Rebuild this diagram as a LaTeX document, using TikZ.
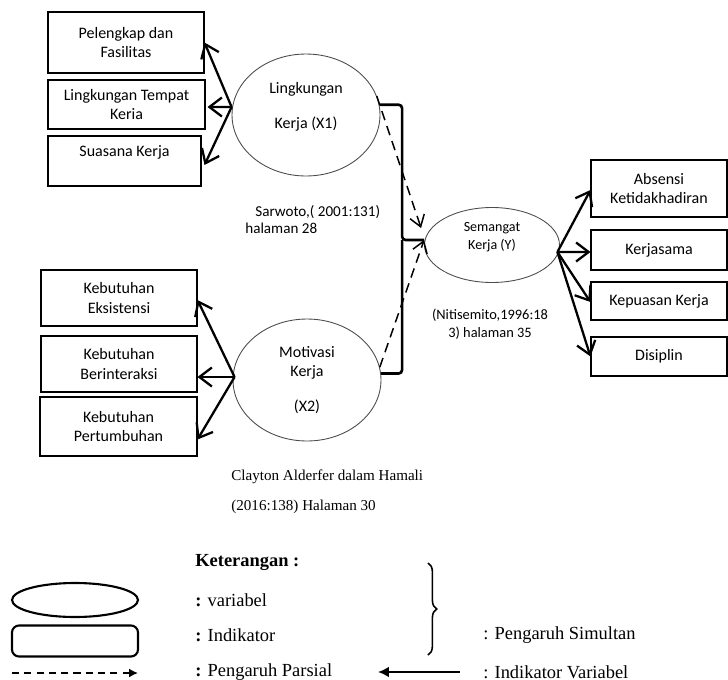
\documentclass[tikz,border=0pt]{standalone}
\usepackage{fontspec}
\setmainfont{Liberation Serif}
\newfontfamily\carlito{Carlito}
\usetikzlibrary{positioning,shapes.geometric,arrows.meta,decorations.pathreplacing}

\begin{document}
\begin{tikzpicture}[x=0.02cm, y=-0.02cm,
    indikator/.style={draw, rectangle, line width=0.6pt, align=center, inner sep=0pt, font=\carlito\fontsize{9.1}{11.3}\selectfont},
    variabel/.style={draw=black!70, ellipse, line width=0.5pt, minimum width=2.96cm, minimum height=2.44cm, align=center, inner sep=0pt, font=\carlito\fontsize{9.1}{11.3}\selectfont},
    panah/.style={-{Straight Barb[length=2.5mm, width=3.8mm]}, line width=1.3pt},
    parsial/.style={-{Straight Barb[length=2.2mm, width=3mm]}, dash pattern=on 5.5pt off 3.5pt, line width=0.85pt},
    simultan/.style={line width=1.5pt, rounded corners=2pt},
    sumber/.style={inner sep=0pt, font=\carlito\fontsize{8.6}{10.2}\selectfont},
    ket/.style={anchor=west, inner sep=0pt, font=\fontsize{10.5}{12}\selectfont}
]
\useasboundingbox (0,0) rectangle (728,680);

% Variabel
\node[variabel] (x1) at (306,115) {Lingkungan\\[8.5pt]Kerja (X1)\\ \mbox{}};
\node[variabel] (x2) at (307,380) {Motivasi\\Kerja\\[8.5pt](X2)};
\node[variabel, minimum width=2.7cm, minimum height=1.5cm, font=\carlito\fontsize{8}{10}\selectfont] (y) at (492,245) {Semangat\\Kerja (Y)\\ \mbox{}};

% Indikator X1
\node[indikator, minimum width=3.12cm, minimum height=1.22cm] (pelengkap) at (126,42.5) {Pelengkap dan\\Fasilitas};
\node[indikator, minimum width=3.14cm, minimum height=0.98cm] (tempat) at (126.5,104.5) {Lingkungan Tempat\\Keria};
\node[indikator, minimum width=3.06cm, minimum height=1.0cm] (suasana) at (124.5,161) {Suasana Kerja\\ \mbox{}};

% Indikator X2
\node[indikator, minimum width=3.12cm, minimum height=1.12cm] (eksistensi) at (119,298) {Kebutuhan\\Eksistensi};
\node[indikator, minimum width=3.12cm, minimum height=1.12cm] (interaksi) at (119,364) {Kebutuhan\\Berinteraksi};
\node[indikator, minimum width=3.14cm, minimum height=1.18cm] (tumbuh) at (118.5,426.5) {Kebutuhan\\Pertumbuhan};

% Indikator Y
\node[indikator, minimum width=2.72cm, minimum height=1.14cm] (absensi) at (659,188.5) {Absensi\\Ketidakhadiran};
\node[indikator, minimum width=2.72cm, minimum height=0.8cm] (kerjasama) at (659,250) {Kerjasama};
\node[indikator, minimum width=2.72cm, minimum height=0.76cm] (kepuasan) at (659,301) {Kepuasan Kerja};
\node[indikator, minimum width=2.72cm, minimum height=0.78cm] (disiplin) at (659,356.5) {Disiplin};

% Sumber
\node[sumber, anchor=west, align=left] (sarwoto) at (245,219.5) {\hspace*{0.2cm}Sarwoto,( 2001:131)\\halaman 28};
\node[sumber, align=center, font=\carlito\fontsize{8.2}{10.2}\selectfont] (nitisemito) at (490,324) {(Nitisemito,1996:18\\3) halaman 35};
\node[inner sep=0pt, anchor=west, align=left, font=\fontsize{8.6}{17}\selectfont] (clayton) at (231,492) {Clayton Alderfer dalam Hamali\\(2016:138) Halaman 30};

% Titik bantu
\coordinate (x1hub) at ([yshift=0.16cm]x1.west);
\coordinate (x2hub) at ([xshift=0.04cm, yshift=0.06cm]x2.west);
\coordinate (yhub) at ([xshift=-0.05cm, yshift=-0.14cm]y.east);
\coordinate (yatas) at ([xshift=-0.06cm, yshift=0.34cm]y.west);
\coordinate (ybawah) at ([yshift=0.1cm]y.west);
\coordinate (simpul) at ([xshift=-0.44cm, yshift=0.1cm]y.west);

% Indikator variabel
\draw[panah] (x1hub) -- (pelengkap.east);
\draw[panah] (x1hub) -- ([xshift=0.04cm, yshift=-0.05cm]tempat.east);
\draw[panah] (x1hub) -- ([xshift=0.06cm, yshift=-0.08cm]suasana.east);
\draw[panah] (x2hub) -- ([yshift=-0.04cm]eksistensi.east);
\draw[panah] (x2hub) -- (interaksi.east |- x2hub);
\draw[panah] (x2hub) -- ([yshift=-0.26cm]tumbuh.east);
\draw[panah] (yhub) -- ([yshift=-0.03cm]absensi.west);
\draw[panah] (yhub) -- ([yshift=-0.04cm]kerjasama.west);
\draw[panah] (yhub) -- ([yshift=-0.02cm]kepuasan.west);
\draw[panah] (yhub) -- (disiplin.west);

% Pengaruh parsial dan simultan
\draw[parsial] (x1.15) -- (yatas);
\draw[parsial] (x2.10) -- (ybawah);
\draw[simultan] (x1.8) -| (simpul) -- (ybawah);
\draw[simultan] (x2.5) -| (simpul);

% Keterangan
\node[ket, font=\bfseries\fontsize{10.5}{12}\selectfont] (keterangan) at (195,562) {Keterangan :};
\node[ket] (ketvar) at (195,600) {\textbf{:} variabel};
\node[ket] (ketind) at (195,635) {\textbf{:} Indikator};
\node[ket] (ketpar) at (195,672) {\textbf{:} Pengaruh Parsial};
\node[ket] (ketsim) at (483,635) {: Pengaruh Simultan};
\node[ket] (ketiv) at (483,672) {: Indikator Variabel};

\node[draw, ellipse, line width=1.2pt, minimum width=2.52cm, minimum height=0.68cm] (lgvar) at (75,600) {};
\node[draw, rectangle, rounded corners=4pt, line width=1.2pt, minimum width=2.52cm, minimum height=0.62cm] (lgind) at (75,641) {};
\coordinate (lgpa) at (12,673);
\coordinate (lgpb) at (138,673);
\draw[dash pattern=on 4pt off 3pt, line width=0.9pt, -{Latex[length=1.8mm, width=1.8mm]}] (lgpa) -- (lgpb);
\coordinate (kurunga) at (428,563);
\coordinate (kurungb) at (428,655);
\draw[decorate, decoration={brace, amplitude=5pt}, line width=0.9pt] (kurunga) -- (kurungb);
\coordinate (lgia) at (460,672);
\coordinate (lgib) at (378,672);
\draw[line width=1.6pt, -{Latex[length=2.2mm, width=2.2mm]}] (lgia) -- (lgib);

\end{tikzpicture}
\end{document}
